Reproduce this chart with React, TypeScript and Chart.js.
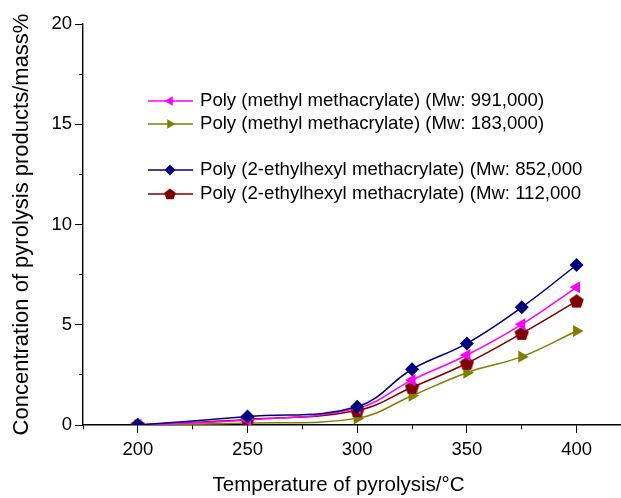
import React, { useEffect, useRef } from "react";
import { Chart, registerables } from "chart.js";
import { drawPoint } from "chart.js/helpers";

Chart.register(...registerables);

const temperatures = [200, 250, 300, 325, 350, 375, 400];
const pmma991 = [0, 0.25, 0.83, 2.24, 3.49, 5.02, 6.87];
const pmma183 = [0, 0.1, 0.33, 1.46, 2.61, 3.41, 4.69];
const pehma852 = [0, 0.42, 0.91, 2.78, 4.07, 5.87, 7.98];
const pehma112 = [0, 0.28, 0.72, 1.88, 3.08, 4.57, 6.18];

const seriesLabels = [
  "Poly (methyl methacrylate) (Mw: 991,000)",
  "Poly (methyl methacrylate) (Mw: 183,000)",
  "Poly (2-ethylhexyl methacrylate) (Mw: 852,000",
  "Poly (2-ethylhexyl methacrylate) (Mw: 112,000",
];
const xTicks = [175, 200, 225, 250, 275, 300, 325, 350, 375, 400];
const yTicks = [0, 2.5, 5, 7.5, 10, 12.5, 15, 17.5, 20];
const xTitle = "Temperature of pyrolysis/°C";
const yTitle = "Concentration of pyrolysis products/mass%";

const FONT = "'Liberation Sans', Arial, Helvetica, sans-serif";

function pentagon(color: string, size: number) {
  const c = document.createElement("canvas");
  c.width = size;
  c.height = size;
  const g = c.getContext("2d")!;
  const r = size / 2;
  g.beginPath();
  for (let i = 0; i < 5; i++) {
    const a = -Math.PI / 2 + (i * 2 * Math.PI) / 5;
    const x = r + r * Math.cos(a);
    const y = r + 0.5 + r * Math.sin(a);
    if (i === 0) g.moveTo(x, y);
    else g.lineTo(x, y);
  }
  g.closePath();
  g.fillStyle = color;
  g.fill();
  return c;
}

export default function App() {
  const ref = useRef<HTMLCanvasElement>(null);
  useEffect(() => {
    const penta = pentagon("#800000", 15);
    const pentaSmall = pentagon("#800000", 12);
    const mk = (label: string, data: number[], color: string, style: any, rot: number, radius: number) => ({
      label,
      data: temperatures.map((t, i) => ({ x: t, y: data[i] })),
      borderColor: color,
      backgroundColor: color,
      borderWidth: 1.5,
      pointStyle: style,
      pointRotation: rot,
      pointRadius: radius,
      pointBorderWidth: 0,
      tension: 0.4,
    });
    const datasets = [
      mk(seriesLabels[2], pehma852, "#000080", "rectRot", 0, 7),
      mk(seriesLabels[0], pmma991, "#FF00FF", "triangle", -90, 7),
      mk(seriesLabels[3], pehma112, "#800000", penta, 0, 7),
      mk(seriesLabels[1], pmma183, "#808000", "triangle", 90, 7),
    ];
    const legendItems = [
      { label: seriesLabels[0], color: "#FF00FF", style: "triangle", rot: -90, y: 101 },
      { label: seriesLabels[1], color: "#808000", style: "triangle", rot: 90, y: 124 },
      { label: seriesLabels[2], color: "#000080", style: "rectRot", rot: 0, y: 170 },
      { label: seriesLabels[3], color: "#800000", style: pentaSmall, rot: 0, y: 194 },
    ];
    const legendPlugin = {
      id: "customLegend",
      afterDraw(chart: any) {
        const ctx = chart.ctx;
        ctx.save();
        legendItems.forEach((it) => {
          ctx.strokeStyle = it.color;
          ctx.fillStyle = it.color;
          ctx.lineWidth = 1.5;
          ctx.beginPath();
          ctx.moveTo(148, it.y);
          ctx.lineTo(193, it.y);
          ctx.stroke();
          drawPoint(ctx, { pointStyle: it.style, rotation: it.rot, radius: 5.5, borderWidth: 0 } as any, 170, it.y);
          ctx.fillStyle = "#000";
          ctx.font = `18.6px ${FONT}`;
          ctx.textBaseline = "middle";
          ctx.textAlign = "left";
          ctx.fillText(it.label, 200, it.y);
        });
        ctx.fillStyle = "#000";
        ctx.font = `20.5px ${FONT}`;
        ctx.textAlign = "center";
        ctx.textBaseline = "middle";
        ctx.fillText(xTitle, 338.5, 485);
        ctx.restore();
      },
    };
    const chart = new Chart(ref.current!, {
      type: "line",
      data: { datasets },
      plugins: [legendPlugin],
      options: {
        animation: false,
        responsive: false,
        maintainAspectRatio: false,
        layout: { padding: { left: 0, right: 0, top: 24, bottom: 0 } },
        plugins: { legend: { display: false }, tooltip: { enabled: false } },
        scales: {
          x: {
            type: "linear",
            min: 175,
            max: 420.7,
            afterBuildTicks: (s: any) => {
              s.ticks = xTicks.map((v) => ({ value: v }));
            },
            afterFit: (s: any) => {
              s.height = 73;
              s.paddingLeft = 0;
              s.paddingRight = 0;
            },
            ticks: {
              autoSkip: false,
              maxRotation: 0,
              color: "#000",
              font: { family: FONT, size: 18.5 },
              padding: 6,
              callback: (v: any) => (Number(v) % 50 === 0 ? String(v) : ""),
            },
            grid: {
              display: true,
              drawOnChartArea: false,
              drawTicks: true,
              tickLength: 8,
              color: "#000",
              lineWidth: 1,
              tickBorderDash: (c: any) => (c.tick && c.tick.value % 50 !== 0 ? [4, 40] : []),
            },
            border: { display: true, color: "#000", width: 1.4 },
            title: { display: false, text: xTitle },
          },
          y: {
            type: "linear",
            min: 0,
            max: 20,
            afterBuildTicks: (s: any) => {
              s.ticks = yTicks.map((v) => ({ value: v }));
            },
            afterFit: (s: any) => {
              s.width = 83;
              s.paddingTop = 0;
              s.paddingBottom = 0;
            },
            ticks: {
              color: "#000",
              font: { family: FONT, size: 18.5 },
              padding: 3,
              callback: (v: any) => (Number(v) % 5 === 0 ? String(v) : ""),
            },
            grid: {
              display: true,
              drawOnChartArea: false,
              drawTicks: true,
              tickLength: 8,
              color: "#000",
              lineWidth: 1,
              tickBorderDash: (c: any) => (c.tick && c.tick.value % 5 !== 0 ? [0, 4, 40, 0] : []),
            },
            border: { display: true, color: "#000", width: 1.4 },
            title: {
              display: true,
              text: yTitle,
              color: "#000",
              font: { family: FONT, size: 22 },
              padding: { top: 9, bottom: 0 },
            },
          },
        },
      },
    });
    return () => chart.destroy();
  }, []);
  return (
    <div style={{ position: "fixed", left: 0, top: 0, width: 621, height: 498, background: "#fff", overflow: "hidden" }}>
      <canvas ref={ref} width={629} height={498} style={{ width: 629, height: 498 }} />
    </div>
  );
}
